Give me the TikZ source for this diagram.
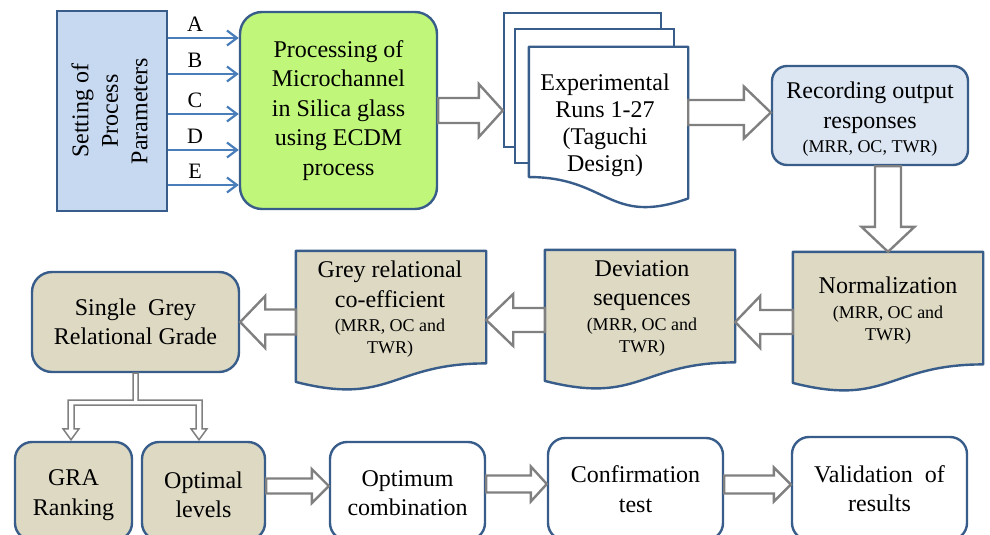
\documentclass[tikz,border=0pt]{standalone}
\usepackage{fontspec}
\setmainfont{Liberation Serif}
\usepackage{graphicx}
\usetikzlibrary{calc,arrows.meta}

\definecolor{bordercol}{RGB}{56,93,138}
\definecolor{setfill}{RGB}{198,217,241}
\definecolor{greenfill}{RGB}{192,247,122}
\definecolor{recfill}{RGB}{220,230,242}
\definecolor{tanfill}{RGB}{221,217,195}
\definecolor{arrowgray}{RGB}{128,128,128}
\definecolor{arrowblue}{RGB}{74,126,187}

\newcommand\mainsz{\fontsize{24}{29.5}\selectfont}
\newcommand\smallsz{\fontsize{18}{22}\selectfont}

\tikzset{
  box/.style={draw=bordercol, line width=2.4pt, inner sep=0pt, align=center, font=\mainsz},
  rbox/.style={box, rounded corners=#1},
  frame/.style={inner sep=0pt},
  txt/.style={inner sep=0pt, align=center, font=\mainsz},
  blockarrow/.style={draw=arrowgray, line width=2.4pt, fill=white},
  parlink/.style={draw=arrowblue, line width=2.2pt, -{Straight Barb[length=10pt,width=15pt]}},
  parlabel/.style={inner sep=0pt, font=\fontsize{22}{25}\selectfont, above=5pt},
  docline/.style={draw=bordercol, line width=2.4pt, line join=round},
}

% hollow block arrow: tail, tip, shaft half width, head half width, head length
\newcommand\blockarrow[5]{%
  \path[blockarrow] let \p1=(#1), \p2=(#2),
    \n1={veclen(\x2-\x1,\y2-\y1)},
    \n2={(\x2-\x1)/\n1}, \n3={(\y2-\y1)/\n1} in
    ({\x1-\n3*#3},{\y1+\n2*#3})
    -- ({\x2-\n2*#5-\n3*#3},{\y2-\n3*#5+\n2*#3})
    -- ({\x2-\n2*#5-\n3*#4},{\y2-\n3*#5+\n2*#4})
    -- (\x2,\y2)
    -- ({\x2-\n2*#5+\n3*#4},{\y2-\n3*#5-\n2*#4})
    -- ({\x2-\n2*#5+\n3*#3},{\y2-\n3*#5-\n2*#3})
    -- ({\x1+\n3*#3},{\y1-\n2*#3})
    -- cycle;}

% document outline (wavy bottom, lower on the left) around a frame node
\newcommand\docpath[2]{%
  \path[docline, fill=#2] let \p1=(#1.north west), \p2=(#1.south east),
    \n1={\x2-\x1}, \n2={\y1-\y2} in
    (\p1) -- (\x2,\y1) -- (\x2,{\y1-0.802*\n2})
    .. controls ({\x1+0.5*\n1},{\y1-0.802*\n2}) and ({\x1+0.5*\n1},{\y1-1.107*\n2}) ..
    (\x1,{\y1-0.934*\n2}) -- cycle;}

% document outline with the wave mirrored (lower on the right)
\newcommand\docflip[2]{%
  \path[docline, fill=#2] let \p1=(#1.north west), \p2=(#1.south east),
    \n1={\x2-\x1}, \n2={\y1-\y2} in
    (\p1) -- (\x2,\y1) -- (\x2,{\y1-0.934*\n2})
    .. controls ({\x1+0.5*\n1},{\y1-1.107*\n2}) and ({\x1+0.5*\n1},{\y1-0.802*\n2}) ..
    (\x1,{\y1-0.802*\n2}) -- cycle;}

\begin{document}
\begin{tikzpicture}[x=1pt,y=-1pt]
\useasboundingbox (0,0) rectangle (990,535);
\clip (0,0) rectangle (990,535);

% ---------- first row ----------
\node[box, fill=setfill, minimum width=110, minimum height=200] (setting) at (112,111)
  {\rotatebox{90}{\begin{tabular}{@{}c@{}}Setting of\\Process\\Parameters\end{tabular}}};
\node[rbox=22pt, fill=greenfill, minimum width=197, minimum height=197] (green) at (338.5,110.5)
  {Processing of\\Microchannel\\in Silica glass\\using ECDM\\process};

\coordinate (ya) at (0,38);
\coordinate (yb) at (0,74);
\coordinate (yc) at (0,114);
\coordinate (yd) at (0,150);
\coordinate (ye) at (0,185);
\draw[parlink] (setting.east |- ya) -- (green.west |- ya) node[parlabel, pos=0.38] (la) {A};
\draw[parlink] (setting.east |- yb) -- (green.west |- yb) node[parlabel, pos=0.38] (lb) {B};
\draw[parlink] (setting.east |- yc) -- (green.west |- yc) node[parlabel, pos=0.38] (lc) {C};
\draw[parlink] (setting.east |- yd) -- (green.west |- yd) node[parlabel, pos=0.38] (ld) {D};
\draw[parlink] (setting.east |- ye) -- (green.west |- ye) node[parlabel, pos=0.38] (le) {E};

% stack of run sheets
\node[box, fill=white, minimum width=157, minimum height=134] (back) at (582.5,80) {};
\node[box, fill=white, minimum width=159, minimum height=134] (mid) at (594.5,96) {};
\node[frame, minimum width=159, minimum height=162] (front) at (608.5,128) {};
\docflip{front}{white}
\node[txt, font=\fontsize{24}{27}\selectfont] (frontt) at (605,125.5)
  {Experimental\\Runs 1-27\\(Taguchi\\Design)};

\node[rbox=15pt, fill=recfill, minimum width=196, minimum height=99] (rec) at (870,115.5)
  {\rule{0pt}{24.5pt}Recording output\\responses\\[-5pt]{\smallsz (MRR, OC, TWR)}};

% ---------- second row ----------
\node[frame, minimum width=190, minimum height=140] (norm) at (888,322) {};
\docpath{norm}{tanfill}
\node[txt] (normt) at (888,310.5)
  {Normalization\\[-5pt]{\smallsz (MRR, OC and}\\[-7.5pt]{\smallsz TWR)}};

\node[frame, minimum width=190, minimum height=140] (dev) at (640,320) {};
\docpath{dev}{tanfill}
\node[txt] (devt) at (642,308)
  {Deviation\\sequences\\[-5pt]{\smallsz (MRR, OC and}\\[-7.5pt]{\smallsz TWR)}};

\node[frame, minimum width=190, minimum height=140] (grey) at (391,321) {};
\docpath{grey}{tanfill}
\node[txt] (greyt) at (390,309.5)
  {Grey relational\\co-efficient\\[-5pt]{\smallsz (MRR, OC and}\\[-7.5pt]{\smallsz TWR)}};

\node[rbox=20pt, fill=tanfill, minimum width=207, minimum height=100] (single) at (135.5,322)
  {Single\hspace{0.25em} Grey\\Relational Grade};

% ---------- third row ----------
\node[rbox=17pt, fill=tanfill, minimum width=117, minimum height=98] (gra) at (73.5,491)
  {\rule{0pt}{24pt}GRA\\Ranking};
\node[rbox=17pt, fill=tanfill, minimum width=123, minimum height=98] (optl) at (203.5,491)
  {\rule{0pt}{24.5pt}Optimal\\levels};
\node[rbox=17pt, fill=white, minimum width=155, minimum height=98] (optc) at (407.5,491)
  {\rule{0pt}{20.5pt}Optimum\\combination};
\node[rbox=17pt, fill=white, minimum width=175, minimum height=102] (conf) at (635.5,489)
  {Confirmation\\test};
\node[rbox=17pt, fill=white, minimum width=175, minimum height=103] (valid) at (879.5,488.5)
  {Validation\hspace{0.25em} of\\results};

% ---------- block arrows ----------
\blockarrow{green.east}{back.west |- green.east}{12.5}{26.5}{24}
\blockarrow{$(front.east |- rec.west)+(0,-3)$}{$(rec.west)+(0,-3)$}{12.5}{26}{27}
\blockarrow{rec.south -| norm.north}{norm.north}{13}{26.5}{25}
\blockarrow{norm.west}{dev.east |- norm.west}{12}{26}{25}
\blockarrow{dev.west}{grey.east |- dev.west}{12}{26}{27}
\blockarrow{grey.west |- single.east}{single.east}{12.5}{26}{25}
\blockarrow{$(optl.east)+(0,-5)$}{$(optc.west)+(0,-5)$}{7.5}{17}{17}
\blockarrow{$(optc.east |- conf.west)+(0,-5)$}{$(conf.west)+(0,-5)$}{8.5}{17.5}{16}
\blockarrow{$(conf.east |- valid.west)+(0,-4)$}{$(valid.west)+(0,-4)$}{9}{17}{17}

% split from the grade to ranking and levels
\path[blockarrow, line width=1.5pt] let \p1=(single.south), \p2=(gra.north), \p3=(optl.north) in
  ({\x1-2.5},\y1) -- ({\x1+2.5},\y1) -- ({\x1+2.5},{\y1-27})
  -- ({\x3-1.5},{\y1-27}) -- ({\x3-1.5},{\y2+12}) -- ({\x3+3.5},{\y2+12})
  -- ({\x3-4.5},{\y2+1}) -- ({\x3-12.5},{\y2+12}) -- ({\x3-7.5},{\y2+12})
  -- ({\x3-7.5},{\y1-32}) -- ({\x2+0.5},{\y1-32}) -- ({\x2+0.5},{\y2+12})
  -- ({\x2+5.5},{\y2+12}) -- ({\x2-2.5},{\y2+1}) -- ({\x2-10.5},{\y2+12})
  -- ({\x2-5.5},{\y2+12}) -- ({\x2-5.5},{\y1-27}) -- ({\x1-2.5},{\y1-27}) -- cycle;
\end{tikzpicture}
\end{document}
